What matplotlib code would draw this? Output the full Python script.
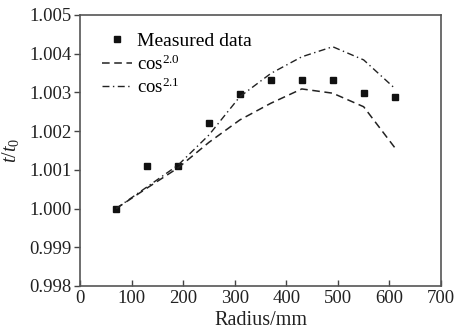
import matplotlib
matplotlib.use("Agg")
import matplotlib.pyplot as plt

plt.rcParams['font.family'] = ['Liberation Serif', 'DejaVu Serif']
plt.rcParams['mathtext.fontset'] = 'custom'
plt.rcParams['mathtext.rm'] = 'Liberation Serif'
plt.rcParams['mathtext.it'] = 'Liberation Serif:style=italic'

radius = [70, 130, 190, 250, 310, 370, 430, 490, 550, 610]
measured = [1.0000, 1.0011, 1.0011, 1.00221, 1.00297, 1.00333, 1.00333, 1.00333, 1.00298, 1.00289]
cos20 = [1.0000, 1.00053, 1.00105, 1.00171, 1.00229, 1.00272, 1.00309, 1.00298, 1.00263, 1.00158]
cos21 = [1.0000, 1.00056, 1.00112, 1.00190, 1.00289, 1.00349, 1.00392, 1.00418, 1.00384, 1.00311]

xticks = [0, 100, 200, 300, 400, 500, 600, 700]
yticks = [0.998, 0.999, 1.000, 1.001, 1.002, 1.003, 1.004, 1.005]

fig = plt.figure(figsize=(4.58, 3.31), dpi=100)
ax = fig.add_axes([0.1747, 0.136, 0.7882, 0.8187])

ax.plot(radius, measured, ls='none', marker='s', ms=3.8, color='#111111', label='Measured data')
ax.plot(radius, cos20, ls=(0, (5, 3)), lw=1.1, color='#222222', label=r'cos$^{2.0}$')
ax.plot(radius, cos21, ls=(0, (5, 2.5, 1, 2.5)), lw=1.0, color='#222222', label=r'cos$^{2.1}$')

ax.set_xlim(0, 700)
ax.set_ylim(0.998, 1.005)
ax.set_xticks(xticks)
ax.set_xticklabels([str(v) for v in xticks])
ax.set_yticks(yticks)
ax.set_yticklabels([f"{v:.3f}" for v in yticks])
ax.tick_params(axis='x', direction='in', length=4, width=1, colors='#444444', labelcolor='#222222', labelsize=13.5, pad=3)
ax.tick_params(axis='y', direction='out', length=4, width=1, colors='#444444', labelcolor='#222222', labelsize=13.5, pad=2)
for s in ax.spines.values():
    s.set_color('#555555')
    s.set_linewidth(1.2)

ax.set_xlabel('Radius/mm', fontsize=14.5, color='#222222', labelpad=3)
ax.set_ylabel(r'$t/t_0$', fontsize=14.5, color='#222222', labelpad=6)

leg = ax.legend(loc='upper left', frameon=False, fontsize=14, handlelength=1.55,
                handletextpad=0.25, labelspacing=0.22, borderaxespad=0.0,
                bbox_to_anchor=(0.04, 0.965))
for t in leg.get_texts()[1:]:
    t.set_fontsize(13.5)

fig.savefig('out.png', dpi=100)
